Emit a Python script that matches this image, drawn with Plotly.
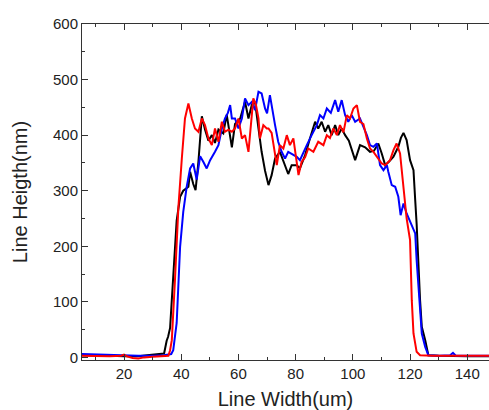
import plotly.graph_objects as go

# Black series
black_x = [5, 10, 15, 20, 25, 28, 31, 34, 34.9, 35.4, 36.1, 37.2, 38.4, 39.6, 40.7, 42.5, 43.1, 44.2, 45.0, 46.0,
           47.2, 48.3, 49.5, 50.7, 51.8, 53.0, 54.7, 55.9, 57.7, 58.8, 60.6, 62.3, 63.5, 64.7, 65.8, 67.0, 68.1,
           69.3, 70.5, 71.6, 72.8, 74.5, 76.3, 77.4, 78.6, 80.4, 81.5, 83.3, 85.0, 86.8, 87.9, 89.1, 90.3, 91.4,
           92.6, 93.8, 94.9, 96.1, 97.3, 98.6, 100.8, 102.5, 104.3, 106.0, 107.4, 108.9, 110.1, 111.3, 112.6,
           114.2, 115.9, 116.8, 117.7, 118.8, 120.0, 121.2, 121.8, 122.3, 123.5, 124.1, 125.3, 126.4, 130, 135,
           140, 145, 148]
black_y = [4, 4, 3, 2, 2, 4, 5, 7, 30, 37, 53, 140, 246, 289, 300, 307, 334, 312, 301, 352,
           434, 410, 390, 400, 386, 410, 403, 437, 378, 420, 430, 460, 430, 455, 460, 412, 370,
           336, 310, 328, 358, 370, 346, 330, 346, 346, 340, 364, 394, 424, 412, 424, 406, 418,
           400, 418, 400, 412, 400, 390, 355, 382, 378, 370, 372, 385, 367, 346, 352,
           361, 379, 395, 404, 391, 355, 337, 283, 240, 103, 55, 31, 4, 3, 2,
           2, 2, 2]

# Blue series
blue_x = [5, 10, 15, 20, 25, 30, 34, 36.5, 37.2, 38.4, 39.0, 39.6, 40.7, 41.9, 43.1, 44.2, 45.4, 46.6,
          47.7, 48.9, 50.1, 51.2, 51.8, 53.0, 54.2, 55.3, 56.3, 57.1, 57.7, 58.8, 60.0, 61.2, 62.3, 63.5,
          64.7, 65.8, 67.0, 68.1, 69.3, 70.0, 71.0, 72.8, 73.9, 75.1, 76.3, 77.4, 78.6, 80.4, 81.5, 82.7,
          83.9, 85.6, 87.4, 88.5, 89.7, 90.9, 92.3, 93.8, 94.9, 96.1, 97.3, 98.4, 99.6, 100.8, 102.5, 103.7,
          104.9, 106.0, 107.2, 108.4, 109.5, 110.7, 111.9, 112.4, 113.6, 114.8, 115.9, 116.7, 117.7,
          118.8, 120.6, 121.8, 122.3, 123.5, 124.1, 125.3, 126.4, 130, 134, 135, 136, 140, 145, 148]
blue_y = [6, 5, 5, 4, 3, 3, 4, 6, 13, 62, 120, 199, 262, 307, 340, 349, 320, 362,
          352, 340, 355, 364, 370, 382, 412, 430, 440, 454, 430, 430, 412, 430, 466, 454,
          460, 445, 478, 475, 448, 439, 472, 418, 388, 370, 358, 370, 366, 361, 355, 370,
          382, 400, 418, 436, 430, 448, 440, 463, 442, 463, 436, 424, 436, 424, 430, 415,
          400, 382, 379, 385, 346, 337, 346, 334, 310, 307, 289, 256, 277,
          259, 238, 223, 175, 85, 43, 19, 4, 3, 4, 8, 3, 3, 3, 3]

# Red series
red_x = [5, 10, 15, 19, 20, 21, 23, 25, 27, 30, 33, 35.5, 36.1, 36.7, 37.8, 39.0, 40.2, 41.3, 42.5,
         43.7, 44.8, 46.0, 47.2, 48.3, 49.5, 50.7, 51.8, 53.0, 54.2, 55.3, 56.5, 57.7, 58.8, 60.0, 61.2,
         62.3, 63.5, 64.3, 65.2, 66.1, 67.0, 67.5, 68.7, 69.9, 70.5, 71.6, 72.8, 73.4, 74.5, 75.7, 76.9,
         78.0, 79.2, 80.4, 81.0, 82.1, 83.3, 84.4, 86.2, 87.9, 89.7, 90.9, 92.0, 93.2, 94.4, 95.5, 96.7,
         97.9, 99.0, 100.2, 101.4, 102.5, 103.7, 104.9, 106.0, 107.2, 108.4, 110.1, 111.3, 113.0, 114.2,
         115.3, 116.5, 117.1, 117.7, 118.8, 120.0, 120.6, 121.2, 122.3, 123.5, 128, 135, 140, 145, 148]
red_y = [3, 2, 2, 3, 5, 2, -1, -2, 0, 1, 2, 3, 13, 31, 139, 270, 358, 430, 457,
         430, 412, 406, 430, 418, 394, 382, 412, 388, 424, 406, 410, 406, 412, 430, 394,
         400, 370, 420, 466, 455, 430, 394, 418, 412, 412, 404, 370, 346, 382, 376, 400,
         382, 394, 352, 328, 352, 360, 376, 370, 388, 382, 400, 395, 412, 400, 418, 405,
         436, 430, 448, 454, 424, 420, 394, 376, 370, 361, 349, 346, 355, 373,
         385, 367, 337, 301, 250, 211, 103, 43, 10, 4, 3, 3, 3, 3, 3]

x_tick_labels = ["20", "40", "60", "80", "100", "120", "140"]
y_tick_labels = ["0", "100", "200", "300", "400", "500", "600"]

fig = go.Figure()
fig.add_trace(go.Scatter(x=black_x, y=black_y, mode="lines", line=dict(color="#000000", width=2), name="black"))
fig.add_trace(go.Scatter(x=blue_x, y=blue_y, mode="lines", line=dict(color="#0000ff", width=2), name="blue"))
fig.add_trace(go.Scatter(x=red_x, y=red_y, mode="lines", line=dict(color="#ff0000", width=2), name="red"))

font_family = "Liberation Sans, Arial, sans-serif"
fig.update_layout(
    width=489, height=410,
    margin=dict(l=82, r=0, t=24, b=50),
    paper_bgcolor="white", plot_bgcolor="white",
    showlegend=False,
    font=dict(family=font_family, size=15, color="#222222"),
    xaxis=dict(
        range=[5.3, 147.6],
        tickmode="array",
        tickvals=[int(v) for v in x_tick_labels], ticktext=x_tick_labels,
        ticks="inside", ticklen=6, tickwidth=1, tickcolor="#333333",
        minor=dict(tickmode="array", tickvals=[10, 30, 50, 70, 90, 110, 130, 150], ticks="inside", ticklen=3, tickcolor="#333333"),
        showline=True, linecolor="#333333", linewidth=1, mirror="ticks",
        showgrid=False, zeroline=False,
        title=dict(text="Line Width(um)", font=dict(size=20, family=font_family, color="#222222"), standoff=12),
        tickfont=dict(size=15, family=font_family, color="#222222"),
    ),
    yaxis=dict(
        range=[-4.7, 600],
        tickmode="array",
        tickvals=[int(v) for v in y_tick_labels], ticktext=y_tick_labels,
        ticks="inside", ticklen=6, tickwidth=1, tickcolor="#333333",
        minor=dict(tickmode="array", tickvals=[50, 150, 250, 350, 450, 550], ticks="inside", ticklen=3, tickcolor="#333333"),
        showline=True, linecolor="#333333", linewidth=1,
        showgrid=False, zeroline=False,
        title=dict(text="Line Heigth(nm)", font=dict(size=20, family=font_family, color="#222222"), standoff=19),
        tickfont=dict(size=15, family=font_family, color="#222222"),
    ),
)

fig.write_html("out.html")
